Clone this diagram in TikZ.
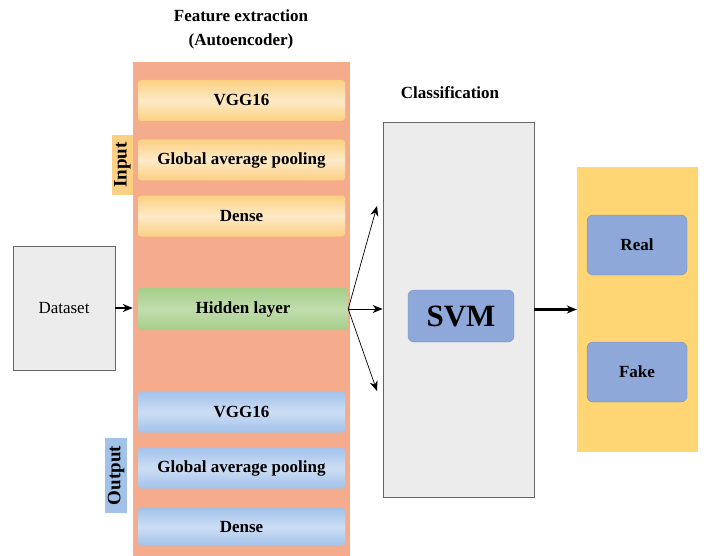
\documentclass[tikz,border=0pt]{standalone}
\usepackage{fontspec}
\setmainfont{Liberation Serif}
\usepackage{xcolor}
\usepackage{tikz}
\usetikzlibrary{arrows.meta, positioning, calc}
\definecolor{salmon}{RGB}{245, 172, 140}
\definecolor{encyellow}{RGB}{252, 208, 130}
\definecolor{declblue}{RGB}{163, 194, 234}
\definecolor{hidgreen}{RGB}{166, 206, 138}
\definecolor{panelgray}{RGB}{236, 236, 236}
\definecolor{svmblue}{RGB}{143, 168, 218}
\definecolor{outyellow}{RGB}{255, 214, 115}
\tikzstyle{layer} = [rectangle, rounded corners=3pt, minimum width=207pt, minimum height=41pt, text centered, font=\fontsize{17}{20}\selectfont\bfseries]
\tikzstyle{encbox} = [layer, top color=encyellow, bottom color=encyellow, middle color=encyellow!45]
\tikzstyle{decbox} = [layer, top color=declblue, bottom color=declblue, middle color=declblue!55]
\tikzstyle{tagbox} = [rectangle, inner sep=1pt, rotate=90, font=\fontsize{19}{20}\selectfont\bfseries]
\tikzstyle{graybox} = [rectangle, draw=black!60, fill=panelgray, thick]
\tikzstyle{classbox} = [rectangle, rounded corners=6pt, draw=svmblue!85!black, fill=svmblue, text centered, font=\fontsize{17}{20}\selectfont\bfseries]
\tikzstyle{arrow} = [->, >={Stealth[length=10pt, width=8pt]}, line width=0.7pt]
\begin{document}
\begin{tikzpicture}[x=1pt, y=-1pt]
    \useasboundingbox (0,0) rectangle (706,556);

    % Feature extraction
    \node[font=\fontsize{17}{24}\selectfont\bfseries, align=center] (title) at (241, 29) {Feature extraction\\(Autoencoder)};
    \node[rectangle, fill=salmon, minimum width=217pt, minimum height=494pt] (feat) at (241.5, 309) {};

    \node[encbox] (in1) at (241.5, 100.5) {VGG16};
    \node[encbox] (in2) at (241.5, 160) {Global average pooling};
    \node[encbox] (in3) at (241.5, 216) {Dense};

    \node[layer, minimum width=210pt, minimum height=42pt, top color=hidgreen, bottom color=hidgreen, middle color=hidgreen!70] (hidden) at (243, 309) {Hidden layer};

    \node[decbox] (out1) at (241.5, 412) {VGG16};
    \node[decbox] (out2) at (241.5, 468) {Global average pooling};
    \node[decbox, minimum height=38pt] (out3) at (241.5, 527) {Dense};

    % Side tags
    \node[tagbox, fill=encyellow, minimum width=60pt, minimum height=21pt] (intag) at (122.5, 165) {Input};
    \node[tagbox, fill=declblue, minimum width=75pt, minimum height=22pt] (outtag) at (116, 475.5) {Output};

    % Dataset
    \node[graybox, minimum width=102pt, minimum height=124pt, font=\fontsize{17}{20}\selectfont] (dataset) at (64, 308) {Dataset};

    % Classification
    \node[font=\fontsize{17}{20}\selectfont\bfseries] (classlabel) at (450, 93) {Classification};
    \node[graybox, minimum width=151pt, minimum height=375pt] (svmpanel) at (458.5, 309.5) {};
    \node[classbox, minimum width=106pt, minimum height=52pt, font=\fontsize{31}{34}\selectfont\bfseries] (svm) at (461, 316) {SVM};

    % Result
    \node[rectangle, fill=outyellow, minimum width=121pt, minimum height=285pt] (result) at (637.5, 309.5) {};
    \node[classbox, minimum width=100pt, minimum height=60pt] (real) at (637, 245) {Real};
    \node[classbox, minimum width=100pt, minimum height=60pt] (fake) at (637, 372) {Fake};

    % Arrows
    \coordinate (upend) at (377, 206);
    \coordinate (downend) at (377, 391);
    \draw[arrow, line width=1.6pt] (dataset.east) -- (dataset.east -| feat.west);
    \draw[arrow] (hidden.east) -- (upend);
    \draw[arrow] (hidden.east) -- (hidden.east -| svmpanel.west);
    \draw[arrow] (hidden.east) -- (downend);
    \draw[arrow, line width=2.4pt] (svmpanel.east) -- (result.west);
\end{tikzpicture}
\end{document}
